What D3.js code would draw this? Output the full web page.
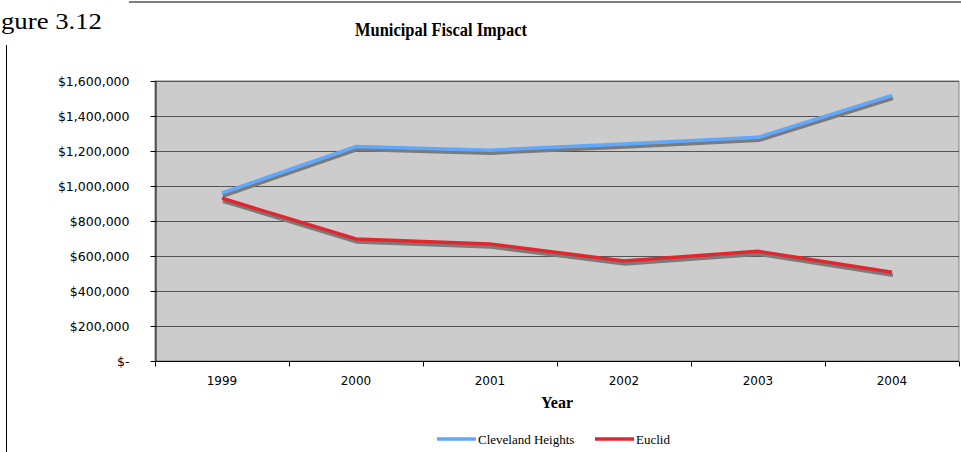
<!DOCTYPE html>
<html>
<head>
<meta charset="utf-8">
<script src="https://cdn.jsdelivr.net/npm/d3@7"></script>
<style>
  body { margin: 0; background: #fff; }
  svg { display: block; }
</style>
</head>
<body>
<svg id="svg" width="961" height="452"></svg>
<script>
const years = ['1999', '2000', '2001', '2002', '2003', '2004']
const clevelandHeights = [960000, 1225000, 1205000, 1240000, 1278000, 1518000]
const euclid = [930000, 697000, 668000, 572000, 627000, 507000]
const seriesNames = ['Cleveland Heights', 'Euclid']
const yTicks = [0, 200000, 400000, 600000, 800000, 1000000, 1200000, 1400000, 1600000]

const series = [
  { name: seriesNames[0], values: clevelandHeights, colour: '#5fa8ff' },
  { name: seriesNames[1], values: euclid, colour: '#e3262e' }
]

const svg = d3.select('#svg')
const plotLeft = 155, plotRight = 959, plotTop = 81, plotBottom = 361
const serif = '"Liberation Serif", "Times New Roman", serif'
const sans = '"DejaVu Sans", Verdana, sans-serif'

// page frame bits (figure label is cropped on the left in the source)
svg.append('line').attr('x1', 129).attr('x2', 961).attr('y1', 2).attr('y2', 2)
  .attr('stroke', '#000').attr('stroke-width', 1)
svg.append('line').attr('x1', 6.5).attr('x2', 6.5).attr('y1', 45).attr('y2', 452)
  .attr('stroke', '#000').attr('stroke-width', 1)
svg.append('text').attr('x', 1).attr('y', 29)
  .attr('textLength', 101)
  .attr('lengthAdjust', 'spacingAndGlyphs')
  .style('font-family', serif)
  .style('font-size', '24px')
  .text('gure 3.12')

const xScale = d3.scaleBand()
  .domain(years)
  .range([plotLeft, plotRight])

const yScale = d3.scaleLinear()
  .domain([0, 1600000])
  .range([plotBottom, plotTop])

// plot area
svg.append('rect')
  .attr('x', plotLeft).attr('y', plotTop)
  .attr('width', plotRight - plotLeft).attr('height', plotBottom - plotTop)
  .attr('fill', '#cccccc')
  .attr('stroke', '#808080')

// gridlines
svg.append('g')
  .selectAll('line')
  .data(yTicks.slice(1))
  .enter()
  .append('line')
  .attr('x1', plotLeft).attr('x2', plotRight)
  .attr('y1', d => Math.round(yScale(d)) + 0.5)
  .attr('y2', d => Math.round(yScale(d)) + 0.5)
  .attr('stroke', '#555')

const fmt = d => d === 0 ? '$-' : '$' + d3.format(',')(d)

const yAxis = svg.append('g')
  .attr('transform', `translate(${plotLeft + 0.5},0)`)
  .call(d3.axisLeft(yScale).tickValues(yTicks).tickFormat(fmt).tickSize(5).tickSizeOuter(0).tickPadding(21))
yAxis.select('.domain').attr('stroke', '#000')
yAxis.selectAll('text')
  .style('font-family', sans)
  .style('font-size', '12.5px')
  .attr('fill', '#000')
yAxis.selectAll('.tick line').attr('stroke', '#000')

// category axis, ticks between categories
const xAxisG = svg.append('g')
  .attr('transform', `translate(0,${plotBottom + 0.5})`)
xAxisG.append('line')
  .attr('x1', plotLeft).attr('x2', plotRight)
  .attr('stroke', '#000')
xAxisG.selectAll('.tk')
  .data(years.concat(['end']))
  .enter()
  .append('line')
  .attr('x1', (d, i) => i < years.length ? xScale(d) + 0.5 : plotRight + 0.5)
  .attr('x2', (d, i) => i < years.length ? xScale(d) + 0.5 : plotRight + 0.5)
  .attr('y1', 0).attr('y2', 5)
  .attr('stroke', '#000')
xAxisG.selectAll('text')
  .data(years)
  .enter()
  .append('text')
  .attr('x', d => xScale(d) + xScale.bandwidth() / 2)
  .attr('y', 23)
  .attr('text-anchor', 'middle')
  .style('font-family', sans)
  .style('font-size', '12px')
  .text(d => d)

// lines with shadow
const line = d3.line()
  .x((d, i) => xScale(years[i]) + xScale.bandwidth() / 2)
  .y(d => yScale(d))

series.forEach(s => {
  svg.append('path')
    .datum(s.values)
    .attr('d', line)
    .attr('fill', 'none')
    .attr('stroke', '#7a7a7a')
    .attr('stroke-width', 3.5)
    .attr('transform', 'translate(1,3)')
})
series.forEach(s => {
  svg.append('path')
    .datum(s.values)
    .attr('d', line)
    .attr('fill', 'none')
    .attr('stroke', s.colour)
    .attr('stroke-width', 3.5)
})

// titles
svg.append('text')
  .attr('x', 355).attr('y', 36)
  .attr('textLength', 172)
  .attr('lengthAdjust', 'spacingAndGlyphs')
  .style('font-family', serif)
  .style('font-weight', 'bold')
  .style('font-size', '18px')
  .text('Municipal Fiscal Impact')

svg.append('text')
  .attr('x', (plotLeft + plotRight) / 2).attr('y', 408)
  .attr('text-anchor', 'middle')
  .style('font-family', serif)
  .style('font-weight', 'bold')
  .style('font-size', '16px')
  .text('Year')

// legend
const legendX = [437, 595]
const legend = svg.append('g')
  .selectAll('g')
  .data(series)
  .enter()
  .append('g')
  .attr('transform', (d, i) => `translate(${legendX[i]},439)`)
legend.append('line')
  .attr('x1', 0).attr('x2', 39)
  .attr('stroke', d => d.colour)
  .attr('stroke-width', 3.5)
legend.append('text')
  .attr('x', 41).attr('y', 5)
  .style('font-family', serif)
  .style('font-size', '13px')
  .text(d => d.name)
</script>
</body>
</html>
